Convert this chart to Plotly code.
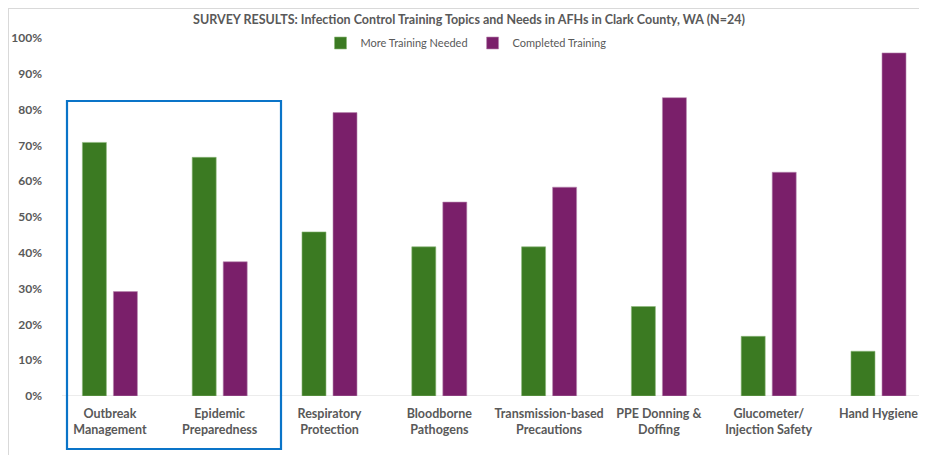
import plotly.graph_objects as go

categories = ["Outbreak<br>Management", "Epidemic<br>Preparedness", "Respiratory<br>Protection",
              "Bloodborne<br>Pathogens", "Transmission-based<br>Precautions", "PPE Donning &<br>Doffing",
              "Glucometer/<br>Injection Safety", "Hand Hygiene"]
more_training = [17/24, 16/24, 11/24, 10/24, 10/24, 6/24, 4/24, 3/24]
completed = [7/24, 9/24, 19/24, 13/24, 14/24, 20/24, 15/24, 23/24]
y_ticks = [i / 10 for i in range(11)]

W, H = 927, 455
OFF = 8  # page body margin offset
# target screen positions of plot area
SL, SR, ST, SB = 55, 927, 38, 396
L = SL - OFF
T = ST - OFF
B = H - (SB - OFF)
R = W - (SR - OFF)
pw = W - L - R
ph = H - T - B

def px_x(sx):
    return (sx - OFF - L) / pw

def px_y(sy):
    return (H - B - (sy - OFF)) / ph

FONT = "Lato"
GRAY = "#595959"

fig = go.Figure()
fig.add_trace(go.Bar(x=categories, y=more_training, name="More Training Needed",
                     marker=dict(color="#3B7A22", line=dict(color="#8DB87A", width=0.6))))
fig.add_trace(go.Bar(x=categories, y=completed, name="Completed Training",
                     marker=dict(color="#7A1F6A", line=dict(color="#B98AB0", width=0.6))))

fig.update_layout(
    width=W, height=H,
    margin=dict(l=L, r=R, t=T, b=B, autoexpand=False),
    paper_bgcolor="white", plot_bgcolor="white",
    barmode="group", bargap=0.435, bargroupgap=0.226,
    font=dict(family=FONT, color=GRAY, size=12),
    title=dict(text="<b>SURVEY RESULTS: Infection Control Training Topics and Needs in AFHs in Clark County, WA (N=24)</b>",
               x=(469 - OFF) / W, xanchor="center", xref="container", y=1 - 12 / H, yanchor="middle",
               yref="container", font=dict(size=12.5, color=GRAY, family=FONT), automargin=False),
    legend=dict(orientation="h", x=(466 - OFF) / W, xanchor="center", xref="container",
                y=1 - 35 / H, yanchor="middle", yref="container",
                font=dict(size=11, color=GRAY, family=FONT), bgcolor="rgba(0,0,0,0)",
                itemwidth=30, traceorder="normal"),
    showlegend=True,
    xaxis=dict(range=[-0.5, -0.5 + pw / 109.8], showgrid=False, showline=False, zeroline=False,
               tickfont=dict(size=12.5, color=GRAY, family=FONT), ticks="", ticklabelstandoff=8,
               automargin=False),
    yaxis=dict(range=[0, 1], tickvals=y_ticks, tickformat=".0%", showgrid=False, zeroline=False,
               showline=False, tickfont=dict(size=12, color=GRAY, family=FONT), ticks="",
               ticklabelstandoff=12, automargin=False),
)

# bold tick labels
fig.update_xaxes(tickvals=categories, ticktext=["<b>" + c + "</b>" for c in categories])
fig.update_yaxes(tickvals=y_ticks, ticktext=["<b>%d%%</b>" % round(v * 100) for v in y_ticks])

shapes = [
    # baseline
    dict(type="line", xref="paper", yref="y", x0=px_x(62), x1=1, y0=0, y1=0,
         line=dict(color="#D9D9D9", width=1.2), layer="below"),
    # highlight box
    dict(type="rect", xref="paper", yref="paper", x0=px_x(67), x1=px_x(281), y0=px_y(449), y1=px_y(101),
         line=dict(color="#0A74C8", width=2.2), fillcolor="rgba(0,0,0,0)"),
    # frame borders (as near the page edge as the figure allows)
    dict(type="line", xref="paper", yref="paper", x0=px_x(OFF), x1=1, y0=px_y(OFF + 0.5), y1=px_y(OFF + 0.5),
         line=dict(color="#D9D9D9", width=1)),
    dict(type="line", xref="paper", yref="paper", x0=px_x(OFF + 0.5), x1=px_x(OFF + 0.5), y0=px_y(OFF + 0.5),
         y1=px_y(H + OFF), line=dict(color="#D9D9D9", width=1)),
]
fig.update_layout(shapes=shapes)

fig.write_html("out.html")
